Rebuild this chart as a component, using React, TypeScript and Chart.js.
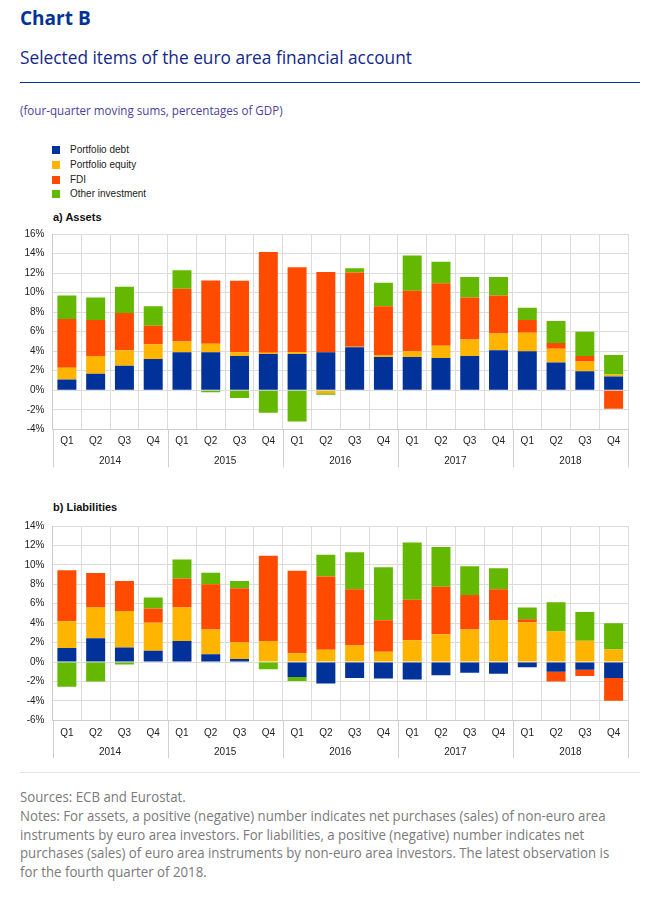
import React, { useEffect, useRef } from 'react';
import { Chart, registerables } from 'chart.js';

Chart.register(...registerables);

// ---------- data ----------
const years = ['2014', '2015', '2016', '2017', '2018'];
const quarterLabels = [
  'Q1', 'Q2', 'Q3', 'Q4',
  'Q1', 'Q2', 'Q3', 'Q4',
  'Q1', 'Q2', 'Q3', 'Q4',
  'Q1', 'Q2', 'Q3', 'Q4',
  'Q1', 'Q2', 'Q3', 'Q4',
];
const seriesNames = ['Portfolio debt', 'Portfolio equity', 'FDI', 'Other investment'];
const seriesColors = ['#003299', '#FFB400', '#FF4B00', '#65B800'];

// a) Assets
const assetsDebt = [1.1, 1.7, 2.5, 3.2, 3.9, 3.9, 3.5, 3.7, 3.7, 3.9, 4.4, 3.4, 3.4, 3.3, 3.5, 4.1, 4.0, 2.85, 1.95, 1.4];
const assetsEquity = [1.2, 1.8, 1.6, 1.5, 1.1, 0.85, 0.4, 0.15, 0.2, -0.3, 0.05, 0.2, 0.6, 1.25, 1.7, 1.7, 1.9, 1.4, 1.0, 0.2];
const assetsFDI = [5.0, 3.7, 3.8, 1.9, 5.4, 6.5, 7.3, 10.3, 8.7, 8.2, 7.6, 5.0, 6.2, 6.4, 4.3, 3.9, 1.3, 0.6, 0.55, -1.9];
const assetsOther = [2.4, 2.3, 2.7, 2.0, 1.9, -0.2, -0.8, -2.3, -3.2, -0.15, 0.45, 2.4, 3.6, 2.2, 2.1, 1.9, 1.25, 2.25, 2.5, 2.0];

// b) Liabilities
const liabDebt = [1.45, 2.45, 1.5, 1.15, 2.15, 0.8, 0.3, 0.0, -1.55, -2.2, -1.65, -1.7, -1.8, -1.35, -1.1, -1.2, -0.55, -1.0, -0.8, -1.65];
const liabEquity = [2.75, 3.15, 3.75, 2.9, 3.45, 2.55, 1.75, 2.15, 0.9, 1.25, 1.7, 1.05, 2.25, 2.85, 3.35, 4.3, 4.1, 3.15, 2.2, 1.3];
const liabFDI = [5.25, 3.55, 3.1, 1.45, 3.0, 4.65, 5.55, 8.8, 8.5, 7.55, 5.8, 3.25, 4.15, 4.9, 3.55, 3.2, 0.3, -1.0, -0.65, -2.35];
const liabOther = [-2.55, -2.0, -0.25, 1.15, 1.95, 1.2, 0.75, -0.75, -0.4, 2.25, 3.8, 5.45, 5.9, 4.1, 2.95, 2.15, 1.2, 3.0, 2.95, 2.7];

const assetsTicks = { min: -4, max: 16, step: 2 };
const liabTicks = { min: -6, max: 14, step: 2 };

const notesLines = [
  'Sources: ECB and Eurostat.',
  'Notes: For assets, a positive (negative) number indicates net purchases (sales) of non-euro area',
  'instruments by euro area investors. For liabilities, a positive (negative) number indicates net',
  'purchases (sales) of euro area instruments by non-euro area investors. The latest observation is',
  'for the fourth quarter of 2018.',
];

// ---------- chart helpers ----------
const GRID = '#dcdcdc';
const AXIS_FONT = { family: '"Liberation Sans", Arial, sans-serif', size: 10 };

const yearPlugin = {
  id: 'yearGroups',
  afterDraw(chart: any) {
    const { ctx, chartArea, scales } = chart;
    const x = scales.x;
    const n = quarterLabels.length;
    const per = n / years.length;
    const w = (chartArea.right - chartArea.left) / n;
    ctx.save();
    ctx.strokeStyle = '#d0d0d0';
    ctx.lineWidth = 1;
    for (let k = 0; k <= years.length; k++) {
      const xx = Math.round(chartArea.left + k * per * w) + 0.5;
      ctx.beginPath();
      ctx.moveTo(xx, chartArea.bottom);
      ctx.lineTo(xx, chartArea.bottom + 38);
      ctx.stroke();
    }
    ctx.fillStyle = '#222';
    ctx.font = '10px "Liberation Sans", Arial, sans-serif';
    ctx.textAlign = 'center';
    ctx.textBaseline = 'middle';
    years.forEach((yr, i) => {
      const cx = (x.getPixelForValue(i * per + 1) + x.getPixelForValue(i * per + 2)) / 2;
      ctx.fillText(yr, cx, chartArea.bottom + 31.7);
    });
    ctx.restore();
  },
};

function makeConfig(series: number[][], ticks: { min: number; max: number; step: number }, padTop: number, xHeight: number, tickPad: number): any {
  return {
    type: 'bar',
    data: {
      labels: quarterLabels,
      datasets: series.map((d, i) => ({
        label: seriesNames[i],
        data: d,
        backgroundColor: seriesColors[i],
        borderWidth: 0,
        barPercentage: 0.66,
        categoryPercentage: 1,
        stack: 's',
      })),
    },
    options: {
      responsive: false,
      animation: false,
      layout: { padding: { top: padTop, right: 40, bottom: 0, left: 0 } },
      plugins: { legend: { display: false }, tooltip: { enabled: false } },
      scales: {
        x: {
          stacked: true,
          offset: true,
          grid: { offset: true, color: GRID, drawTicks: false },
          border: { color: '#cccccc' },
          ticks: { padding: tickPad, color: '#222', font: AXIS_FONT, maxRotation: 0, autoSkip: false },
          afterFit: (s: any) => { s.height = xHeight; },
        },
        y: {
          stacked: true,
          min: ticks.min,
          max: ticks.max,
          grid: { color: GRID, drawTicks: false },
          border: { color: '#cccccc' },
          ticks: { stepSize: ticks.step, padding: 8, color: '#222', font: AXIS_FONT, callback: (v: any) => v + '%' },
          afterFit: (s: any) => { s.width = 52.5; },
        },
      },
    },
    plugins: [yearPlugin],
  };
}

function BarChart({ top, series, ticks, padTop, xHeight, tickPad }: any) {
  const ref = useRef<HTMLCanvasElement>(null);
  useEffect(() => {
    const chart = new Chart(ref.current as HTMLCanvasElement, makeConfig(series, ticks, padTop, xHeight, tickPad));
    return () => chart.destroy();
  }, []);
  return (
    <canvas
      ref={ref}
      width={668}
      height={250}
      style={{ position: 'absolute', left: 0, top, width: 668, height: 250 }}
    />
  );
}

function T({ x, y, size, color, weight, family, sx, children }: any) {
  const h = Math.round(size * 1.4);
  return (
    <div
      style={{
        position: 'absolute',
        left: x,
        top: y - h / 2,
        height: h,
        lineHeight: h + 'px',
        fontSize: size,
        color,
        fontWeight: weight || 'normal',
        fontFamily: family || '"Open Sans", sans-serif',
        whiteSpace: 'nowrap',
        transform: `scaleX(${sx || 1})`,
        transformOrigin: 'left center',
      }}
    >
      {children}
    </div>
  );
}

export default function App() {
  const legendY = [150, 165, 179.5, 194];
  return (
    <div style={{ position: 'absolute', left: 0, top: 0, width: 668, height: 898, background: '#fff', overflow: 'hidden' }}>
      <T x={20} y={18} size={19} color="#003299" weight="bold" sx={1.0}>Chart B</T>
      <T x={20} y={57} size={19} color="#14288a" sx={0.91}>Selected items of the euro area financial account</T>
      <div style={{ position: 'absolute', left: 20, top: 81.5, width: 620, height: 1.5, background: '#003299' }} />
      <T x={20} y={111} size={12.5} color="#4b3f9a" sx={0.93}>(four-quarter moving sums, percentages of GDP)</T>

      {seriesNames.map((name, i) => (
        <React.Fragment key={name}>
          <div style={{ position: 'absolute', left: 52, top: legendY[i] - 4, width: 8, height: 8, background: seriesColors[i] }} />
          <T x={70} y={legendY[i]} size={10} color="#222" family='"Liberation Sans", Arial, sans-serif'>{name}</T>
        </React.Fragment>
      ))}

      <T x={53} y={217} size={11} color="#111" weight="bold" family='"Liberation Sans", Arial, sans-serif'>a) Assets</T>
      <BarChart top={220} series={[assetsDebt, assetsEquity, assetsFDI, assetsOther]} ticks={assetsTicks} padTop={12.7} xHeight={40.7} tickPad={6} />

      <T x={53} y={507.5} size={11} color="#111" weight="bold" family='"Liberation Sans", Arial, sans-serif'>b) Liabilities</T>
      <BarChart top={512} series={[liabDebt, liabEquity, liabFDI, liabOther]} ticks={liabTicks} padTop={11} xHeight={41.7} tickPad={7} />

      <div style={{ position: 'absolute', left: 20, top: 772, width: 620, height: 1, background: '#e3e3e3' }} />
      {notesLines.map((line, i) => (
        <T key={i} x={20} y={797 + i * 18.8} size={14} color="#7a7a7a" sx={0.945}>{line}</T>
      ))}
    </div>
  );
}
